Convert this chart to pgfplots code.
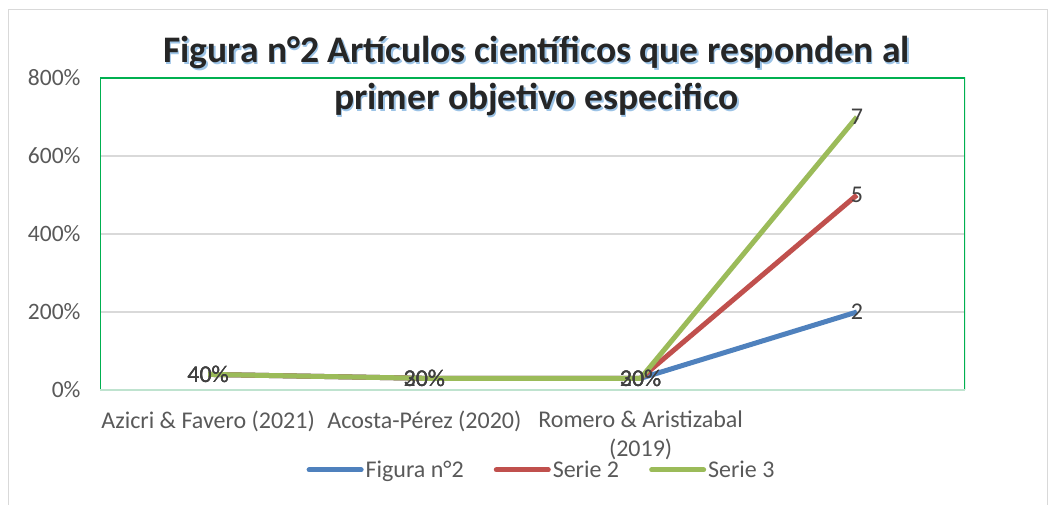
\documentclass[border=0pt]{standalone}
\usepackage{pgfplots}
\pgfplotsset{compat=1.18}
\usepackage{pgfplotstable}
\usepackage{fontspec}
\setmainfont{Carlito}
\definecolor{sblue}{HTML}{4F81BD}
\definecolor{sred}{HTML}{C0504D}
\definecolor{sgreen}{HTML}{9BBB59}
\definecolor{bordergreen}{HTML}{00B050}
\definecolor{palegreen}{HTML}{BFE3CF}
\definecolor{txt}{HTML}{595959}
\definecolor{lbl}{HTML}{404040}
\definecolor{shadowblue}{HTML}{9CC3E6}

\pgfplotstableread{
x y lab
0 40 40\%
1 30 20\%
2 30 20\%
3 200 2
}\blue
\pgfplotstableread{
x y lab
0 40 40\%
1 30 30\%
2 30 30\%
3 500 5
}\red
\pgfplotstableread{
x y lab
0 40 40\%
1 30 30\%
2 30 30\%
3 700 7
}\green

\begin{document}
\begin{tikzpicture}[x=1pt,y=1pt]
\useasboundingbox (0,0) rectangle (1049,504);
\draw[gray!30, line width=1pt] (8,-5) rectangle (1047,494);
\begin{axis}[
  at={(100pt,114pt)}, anchor=south west,
  scale only axis, width=865pt, height=312pt,
  xmin=-0.5, xmax=3.5, ymin=0, ymax=800,
  xtick={0,1,2},
  xticklabels={Azicri \& Favero (2021), Acosta-Pérez (2020), {Romero \& Aristizabal\\(2019)}},
  xticklabel style={align=center, text=txt, font=\fontsize{24}{29}\selectfont, yshift=-17pt},
  ytick={0,200,400,600,800},
  yticklabel={\pgfmathprintnumber{\tick}\%},
  yticklabel style={text=txt, font=\fontsize{23.5}{28}\selectfont, xshift=-16pt},
  /pgf/number format/assume math mode=true,
  ymajorgrids, grid style={draw=gray!30, line width=1.2pt},
  axis line style={draw=none},
  major tick length=0pt, tick style={draw=none},
  legend columns=3,
  legend style={draw=none, fill=none, at={(0.5105,-0.256)}, anchor=center,
    font=\fontsize{24}{28}\selectfont, text=txt,
    /tikz/every even column/.append style={column sep=28pt}},
  legend image code/.code={\draw[#1, line cap=round] (0pt,0pt) -- (52pt,0pt);},
  nodes near coords style={anchor=center, text=lbl, font=\fontsize{24}{28}\selectfont},
]
\draw[bordergreen, line width=1.5pt] (rel axis cs:0,0) -- (rel axis cs:0,1) -- (rel axis cs:1,1) -- (rel axis cs:1,0);
\draw[palegreen, line width=1.5pt] (rel axis cs:0,0) -- (rel axis cs:1,0);
\addplot[sblue, line width=5pt, mark=none] table[x=x,y=y] {\blue};
\addlegendentry{Figura n°2}
\addplot[sred, line width=5pt, mark=none] table[x=x,y=y] {\red};
\addlegendentry{Serie 2}
\addplot[sgreen, line width=5pt, mark=none] table[x=x,y=y] {\green};
\addlegendentry{Serie 3}
\addplot[draw=none, mark=none, forget plot, nodes near coords, point meta=explicit symbolic] table[x=x,y=y,meta=lab] {\blue};
\addplot[draw=none, mark=none, forget plot, nodes near coords, point meta=explicit symbolic] table[x=x,y=y,meta=lab] {\red};
\addplot[draw=none, mark=none, forget plot, nodes near coords, point meta=explicit symbolic] table[x=x,y=y,meta=lab] {\green};
\end{axis}
\begin{scope}[font=\bfseries\fontsize{37.5}{42}\selectfont]
\node[anchor=base, text=shadowblue] at (538,439.5) {Figura n°2 Artículos científicos que responden al};
\node[anchor=base, text=shadowblue] at (538,392.5) {primer objetivo especifico};
\node[anchor=base, text=black!85] at (536.5,441) {Figura n°2 Artículos científicos que responden al};
\node[anchor=base, text=black!85] at (536.5,394) {primer objetivo especifico};
\end{scope}
\end{tikzpicture}
\end{document}
